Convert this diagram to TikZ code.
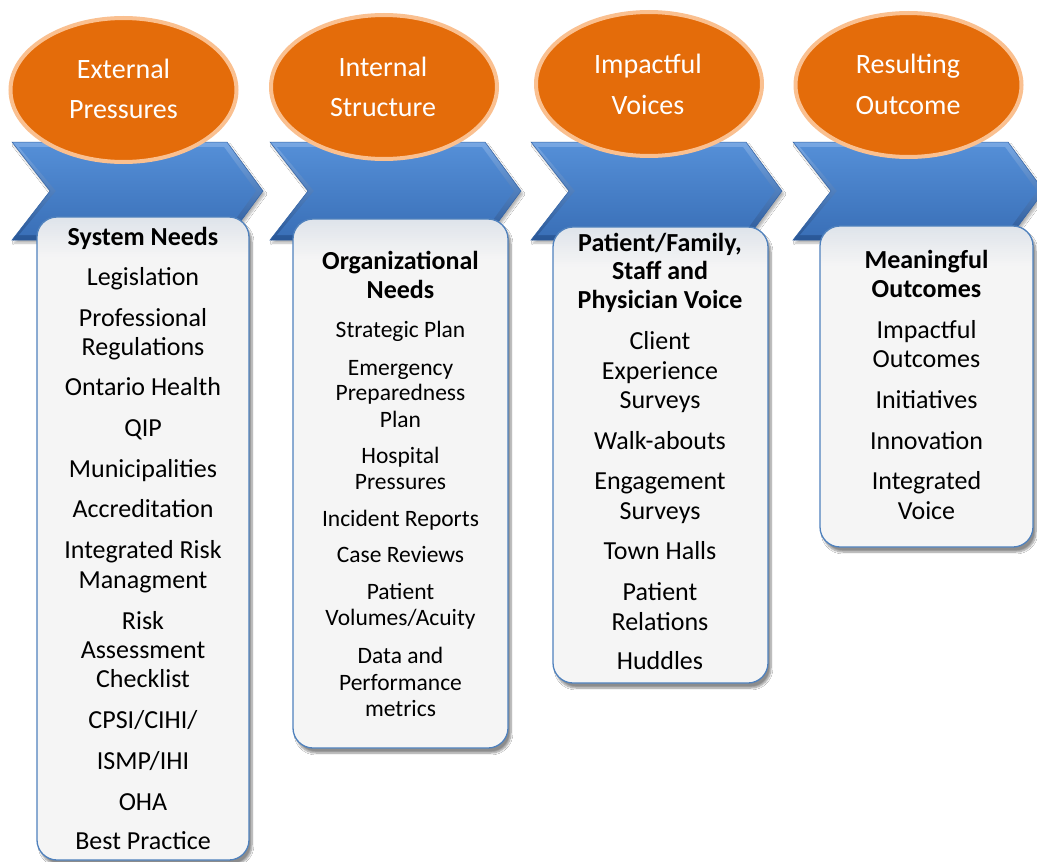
\documentclass[tikz,border=0pt]{standalone}
\usepackage{fontspec}
\setmainfont{Carlito}
\usetikzlibrary{shapes.geometric,shadows.blur}

\definecolor{ovalfill}{RGB}{228,108,10}
\definecolor{ovalrim}{RGB}{250,192,144}
\definecolor{chevtop}{RGB}{84,142,214}
\definecolor{chevbot}{RGB}{58,112,184}
\definecolor{bevtop}{RGB}{120,168,228}
\definecolor{bevbot}{RGB}{40,86,150}
\definecolor{chevedge}{RGB}{50,98,164}
\definecolor{panelline}{RGB}{79,129,189}
\definecolor{panelfill}{RGB}{245,245,245}
\definecolor{paneltop}{RGB}{222,227,234}

\begin{document}
\begin{tikzpicture}[x=1pt,y=-1pt,
  chevron/.style={top color=bevtop, bottom color=bevbot, draw=chevedge,
    line width=0.5pt, line join=miter,
    blur shadow={shadow xshift=2pt, shadow yshift=-3pt, shadow opacity=30, shadow blur steps=6}},
  chevface/.style={top color=chevtop, bottom color=chevbot},
  headoval/.style={ellipse, fill=ovalfill, draw=ovalrim, line width=4pt,
    minimum width=226pt, minimum height=144pt, inner sep=0pt},
  ovaltext/.style={text=white, inner sep=0pt, text height=18pt, text depth=0pt,
    font=\fontsize{28}{34}\selectfont},
  % stepped grey band fading down from the top edge of each panel
  panel/.style={rounded corners=20pt, fill=panelfill, draw=panelline, line width=1.3pt,
    inner sep=0pt,
    blur shadow={shadow xshift=3pt, shadow yshift=-5pt, shadow opacity=45, shadow blur steps=8},
    path picture={
      \foreach \i in {0,...,19}{
        \pgfmathtruncatemacro{\pc}{100-5*\i}
        \fill[sharp corners, paneltop!\pc!panelfill]
          ([yshift={-2*\i+1}]path picture bounding box.north west) rectangle
          ([yshift={-2*\i-2}]path picture bounding box.north east);
      }}},
  item/.style={inner sep=0pt, text height=16.7pt, text depth=0pt,
    font=\fontsize{26}{30}\selectfont},
  itemsm/.style={inner sep=0pt, text height=15.1pt, text depth=0pt,
    font=\fontsize{23.5}{27}\selectfont},
  headline/.style={inner sep=0pt, text height=16.7pt, text depth=0pt,
    font=\fontsize{26}{30}\selectfont\bfseries},
]
\useasboundingbox (0,0) rectangle (1037,862);
\fill[white] (0,0) rectangle (1037,862);

% blue chevrons with a bevelled rim
\foreach \x in {12,270,531,793}{
  \path[chevron] (\x,142) -- ({\x+215},142) -- ({\x+251},191) -- ({\x+215},240)
    -- (\x,240) -- ({\x+38},191) -- cycle;
  \path[chevface] ({\x+7},147) -- ({\x+212},147) -- ({\x+244},191) -- ({\x+212},235)
    -- ({\x+7},235) -- ({\x+44},191) -- cycle;
}

% orange headings
\node[headoval] (e1) at (123.5,90) {};
\node[headoval] (e2) at (384,87) {};
\node[headoval] (e3) at (649,84) {};
\node[headoval] (e4) at (908.5,85) {};
\node[ovaltext] (e1a) at (123.5,69) {External};
\node[ovaltext] (e1b) at (123.5,109) {Pressures};
\node[ovaltext] (e2a) at (383,67) {Internal};
\node[ovaltext] (e2b) at (383,107) {Structure};
\node[ovaltext] (e3a) at (648,64) {Impactful};
\node[ovaltext] (e3b) at (648,105) {Voices};
\node[ovaltext] (e4a) at (908,64) {Resulting};
\node[ovaltext] (e4b) at (908,105) {Outcome};

% content panels
\node[panel, minimum width=212pt, minimum height=643pt] (b1) at (143,538.5) {};
\node[panel, minimum width=215pt, minimum height=529pt] (b2) at (400.5,483.5) {};
\node[panel, minimum width=215pt, minimum height=456pt] (b3) at (660.5,455) {};
\node[panel, minimum width=213pt, minimum height=321pt] (b4) at (926.5,386.5) {};

% column 1
\node[headline] (h1) at (143,237) {System Needs};
\foreach \y/\t [count=\k] in {277/{Legislation},318/{Professional},347.5/{Regulations},
    387.5/{Ontario Health},428/{QIP},469/{Municipalities},509/{Accreditation},
    550/{Integrated Risk},580/{Managment},621/{Risk},650/{Assessment},679/{Checklist},
    720/{CPSI/CIHI/},761/{ISMP/IHI},802/{OHA},841/{Best Practice}}
  \node[item] (a1-\k) at (143,\y) {\t};

% column 2
\node[headline] (h2a) at (400.5,261) {Organizational};
\node[headline] (h2b) at (400.5,290.5) {Needs};
\foreach \y/\t [count=\k] in {329.5/{Strategic Plan},367.5/{Emergency},392.5/{Preparedness},
    419.5/{Plan},456/{Hospital},482/{Pressures},519/{Incident Reports},555/{Case Reviews},
    592/{Patient},618/{Volumes/Acuity},655.5/{Data and},682.5/{Performance},709/{metrics}}
  \node[itemsm] (a2-\k) at (400.5,\y) {\t};

% column 3
\node[headline] (h3a) at (660,243) {Patient/Family,};
\node[headline] (h3b) at (660,271) {Staff and};
\node[headline] (h3c) at (660,300.5) {Physician Voice};
\foreach \y/\t [count=\k] in {341/{Client},371/{Experience},400/{Surveys},441/{Walk-abouts},
    481/{Engagement},511/{Surveys},551/{Town Halls},592.5/{Patient},622/{Relations},661/{Huddles}}
  \node[item] (a3-\k) at (660,\y) {\t};

% column 4
\node[headline] (h4a) at (926.5,260) {Meaningful};
\node[headline] (h4b) at (926.5,289) {Outcomes};
\foreach \y/\t [count=\k] in {330/{Impactful},359.5/{Outcomes},400/{Initiatives},
    441/{Innovation},481/{Integrated},511/{Voice}}
  \node[item] (a4-\k) at (926.5,\y) {\t};
\end{tikzpicture}
\end{document}
